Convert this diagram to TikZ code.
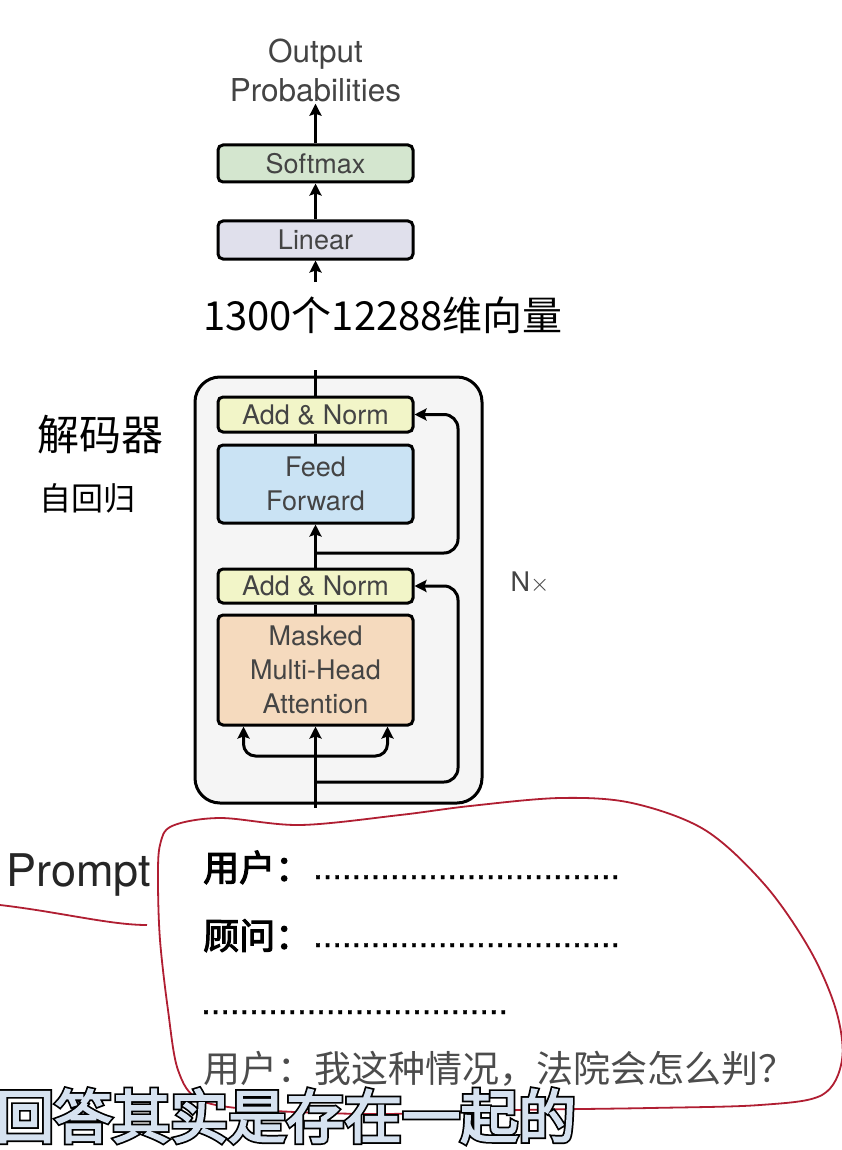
\documentclass[tikz,border=0pt]{standalone}
\usepackage{fontspec}
\setmainfont{TeX Gyre Heros}
\newfontfamily\cjk{Noto Sans CJK SC}
\newfontfamily\cjkb[AutoFakeBold=3]{Noto Sans CJK SC}
\newfontfamily\cjkedge[FakeBold=9]{Noto Sans CJK SC}
\newfontfamily\dotfont[FakeBold=1]{Liberation Sans}
\usepackage{tikz}
\usetikzlibrary{arrows.meta,positioning}
\usepackage{xcolor}
\definecolor{txtgrey}{RGB}{68,68,68}
\definecolor{smgreen}{RGB}{212,230,207}
\definecolor{lingrey}{RGB}{224,224,236}
\definecolor{anyellow}{RGB}{242,245,200}
\definecolor{ffblue}{RGB}{202,227,244}
\definecolor{mhaorange}{RGB}{245,218,190}
\definecolor{boxbg}{RGB}{245,245,245}
\definecolor{inkred}{RGB}{176,30,50}
\definecolor{subfill}{RGB}{214,226,240}
\tikzstyle{layer} = [draw=black, line width=3pt, rounded corners=5pt, minimum width=195pt, text=txtgrey, align=center, inner sep=0pt, font=\fontsize{27}{34}\selectfont]
\tikzstyle{arrow} = [line width=3pt, -{Stealth[length=12pt,width=12pt,inset=2pt]}]
\tikzstyle{wire} = [line width=3pt]
\newcommand{\dotrow}{{\dotfont ................................}}
\newcommand{\subline}{回答其实是存在一起的}

\begin{document}
\begin{tikzpicture}[x=1pt, y=-1pt]
\useasboundingbox (0,0) rectangle (842,1150);
\fill[white] (0,0) rectangle (842,1150);

% Output head
\node[align=center, text=txtgrey, inner sep=2pt, font=\fontsize{31.5}{39}\selectfont] (outtxt) at (315.5,70) {Output\\Probabilities};
\node[layer, fill=smgreen, minimum height=37pt] (softmax) at (315.5,163.5) {Softmax};
\node[layer, fill=lingrey, minimum height=38pt] (linear) at (315.5,240) {Linear};
\node[anchor=base, inner sep=0pt, font=\fontsize{40}{40}\selectfont\cjk] (vec) at (383,330) {1300个12288维向量};
\draw[arrow] (softmax) -- (outtxt);
\draw[arrow] (linear) -- (softmax);
\draw[arrow] ([yshift=14pt]vec.north -| linear.south) -- (linear);

% Decoder block
\node[draw, line width=3pt, rounded corners=25pt, fill=boxbg, minimum width=287pt, minimum height=426pt] (dec) at (338.5,590) {};
\node[layer, fill=anyellow, minimum height=35pt] (an1) at (315.5,414.5) {Add \& Norm};
\node[layer, fill=ffblue, minimum height=78pt] (ff) at (315.5,484) {Feed\\Forward};
\node[layer, fill=anyellow, minimum height=34pt] (an2) at (315.5,586) {Add \& Norm};
\node[layer, fill=mhaorange, minimum height=110pt] (mha) at (315.5,670) {Masked\\Multi-Head\\Attention};
\node[text=txtgrey, font=\fontsize{27}{27}\selectfont] (nx) at (530,583) {N$\times$};
\node[font=\fontsize{42}{42}\selectfont\cjk] (dlabel) at (100,435) {解码器};
\node[font=\fontsize{32}{32}\selectfont\cjk] (alabel) at (87,498) {自回归};

\coordinate (out) at (315.5,370);
\coordinate (in) at (315.5,808);
\coordinate (br) at (315.5,756);
\coordinate (r1) at (315.5,553);
\coordinate (r2) at (315.5,782);
\coordinate (rescol) at (458,0);

\draw[wire] (an1) -- (out);
\draw[wire] (ff) -- (an1);
\draw[arrow] (an2) -- (ff);
\draw[wire] (mha) -- (an2);
\draw[arrow] (in) -- (mha);
\draw[arrow, rounded corners=12pt] (br) -| ([xshift=-72pt]mha.south);
\draw[arrow, rounded corners=12pt] (br) -| ([xshift=72pt]mha.south);
\draw[arrow, rounded corners=14pt] (r1) -| (rescol |- an1.east) -- (an1.east);
\draw[arrow, rounded corners=14pt] (r2) -| (rescol |- an2.east) -- (an2.east);

% Prompt annotation
\draw[inkred, line width=1.8pt] plot[smooth cycle, tension=0.55] coordinates {
  (160,845) (172,826) (220,818) (300,825) (400,815) (470,806) (560,798)
  (632,803) (705,830) (765,885) (810,950) (836,1010) (842,1060) (822,1095)
  (760,1105) (650,1108) (520,1110) (380,1114) (260,1110) (200,1100)
  (178,1070) (168,1010) (160,940) (158,880)};
\draw[inkred, line width=1.8pt] (0,905) .. controls (60,912) and (110,925) .. (147,925);

\node[anchor=base west, inner sep=0pt, text=black!85, font=\fontsize{45}{45}\selectfont] (prompt) at (6,886) {Prompt};
\node[anchor=base west, inner sep=0pt, font=\fontsize{36}{36}\selectfont\cjkb\bfseries] (u1) at (203,881) {用户：};
\node[anchor=base west, inner sep=0pt, font=\fontsize{34.5}{34.5}\selectfont] (d1) at (313,879) {\dotrow};
\node[anchor=base west, inner sep=0pt, font=\fontsize{36}{36}\selectfont\cjkb\bfseries] (g1) at (203,949) {顾问：};
\node[anchor=base west, inner sep=0pt, font=\fontsize{34.5}{34.5}\selectfont] (d2) at (313,947) {\dotrow};
\node[anchor=base west, inner sep=0pt, font=\fontsize{34.5}{34.5}\selectfont] (d3) at (201,1014) {\dotrow};
\node[anchor=base west, inner sep=0pt, text=black!70, font=\fontsize{37}{37}\selectfont\cjk] (q1) at (203,1082) {用户：我这种情况，法院会怎么判？};

% subtitle: heavy black copy under a light one
\node[anchor=base west, inner sep=0pt, font=\fontsize{58}{58}\selectfont] (sub) at (-4,1138)
  {\rlap{\cjkedge\color{black}\subline}{\cjkb\bfseries\color{subfill}\subline}};
\end{tikzpicture}
\end{document}
